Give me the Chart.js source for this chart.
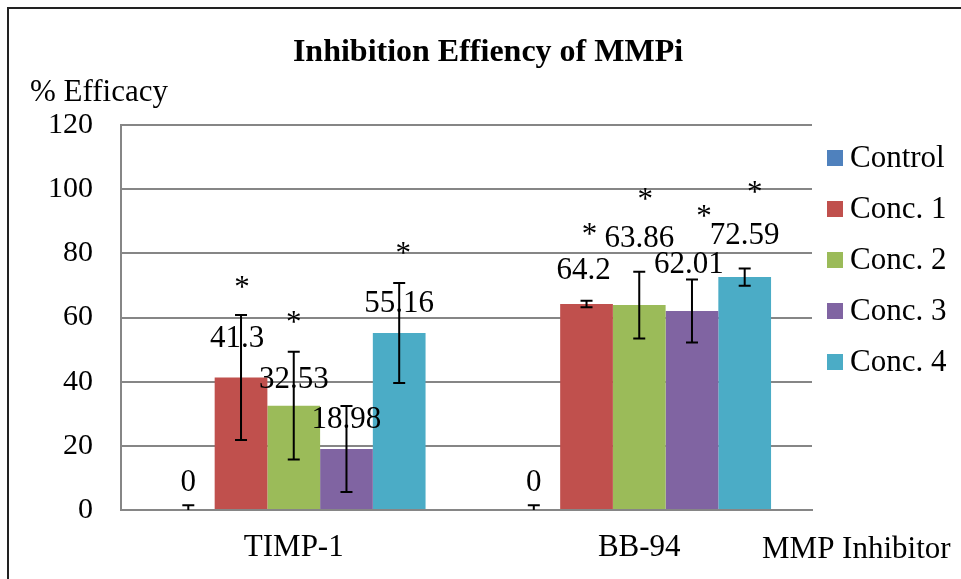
<!DOCTYPE html>
<html>
<head>
<meta charset="utf-8">
<script src="https://cdn.jsdelivr.net/npm/chart.js@4/dist/chart.umd.min.js"></script>
<style>
  html, body { margin: 0; padding: 0; background: #fff; }
</style>
</head>
<body>
<canvas id="chart" width="961" height="579"></canvas>
<script>
// Inhibition efficacy of MMP inhibitors

const categories = ['TIMP-1', 'BB-94'];
const seriesNames = ['Control', 'Conc. 1', 'Conc. 2', 'Conc. 3', 'Conc. 4'];

const controlValues = [0, 0];
const conc1Values = [41.3, 64.2];
const conc2Values = [32.53, 63.86];
const conc3Values = [18.98, 62.01];
const conc4Values = [55.16, 72.59];

// +/- error
const controlErr = [1.5, 1.5];
const conc1Err = [19.5, 1.0];
const conc2Err = [16.8, 10.4];
const conc3Err = [13.4, 9.8];
const conc4Err = [15.6, 2.7];

// significance stars
const controlSig = [false, false];
const conc1Sig = [true, true];
const conc2Sig = [true, true];
const conc3Sig = [false, true];
const conc4Sig = [true, true];

const yTicks = [0, 20, 40, 60, 80, 100, 120];

const colors = ['#4F81BD', '#C0504D', '#9BBB59', '#8064A2', '#4BACC6'];
const FONT = '"Liberation Serif", "Times New Roman", serif';

const values = [controlValues, conc1Values, conc2Values, conc3Values, conc4Values];
const errors = [controlErr, conc1Err, conc2Err, conc3Err, conc4Err];
const stars = [controlSig, conc1Sig, conc2Sig, conc3Sig, conc4Sig];

// label placement tweaks (px): [dx, lift above bar top]
const labelShift = [
    [[0, 29], [0, 29]],
    [[-4, 40], [-3, 35]],
    [[0, 28], [0, 68]],
    [[0, 31], [-3, 48]],
    [[0, 31], [0, 43]]
];
const starShift = [
    [null, null],
    [[1, 94], [3, 74]],
    [[0, 88], [6, 110]],
    [null, [12, 99]],
    [[4, 84], [10, 89]]
];

const annotate = {
    id: 'annotate',
    afterDatasetsDraw(chart) {
        const ctx = chart.ctx;
        const y = chart.scales.y;
        const area = chart.chartArea;

        // error bars
        ctx.save();
        ctx.beginPath();
        ctx.rect(area.left, area.top, area.right - area.left, area.bottom - area.top);
        ctx.clip();
        ctx.strokeStyle = '#000';
        ctx.lineWidth = 2;
        chart.data.datasets.forEach((ds, i) => {
            chart.getDatasetMeta(i).data.forEach((bar, j) => {
                const v = ds.data[j], e = errors[i][j];
                const top = y.getPixelForValue(v + e);
                const bot = y.getPixelForValue(v - e);
                ctx.beginPath();
                ctx.moveTo(bar.x, top); ctx.lineTo(bar.x, bot);
                ctx.moveTo(bar.x - 6, top); ctx.lineTo(bar.x + 6, top);
                ctx.moveTo(bar.x - 6, bot); ctx.lineTo(bar.x + 6, bot);
                ctx.stroke();
            });
        });
        ctx.restore();

        // value labels and stars
        ctx.save();
        ctx.fillStyle = '#000';
        ctx.textAlign = 'center';
        ctx.textBaseline = 'alphabetic';
        ctx.font = '31px ' + FONT;
        chart.data.datasets.forEach((ds, i) => {
            chart.getDatasetMeta(i).data.forEach((bar, j) => {
                const [dx, lift] = labelShift[i][j];
                ctx.fillText(String(ds.data[j]), bar.x + dx, bar.y - lift + 10);
                if (stars[i][j]) {
                    const [sx, sl] = starShift[i][j];
                    ctx.fillText('*', bar.x + sx, bar.y - sl + 14);
                }
            });
        });
        ctx.restore();
    },
    afterDraw(chart) {
        const ctx = chart.ctx;
        ctx.save();
        ctx.fillStyle = '#000';

        ctx.font = 'bold 32px ' + FONT;
        ctx.textAlign = 'center';
        ctx.textBaseline = 'alphabetic';
        ctx.fillText('Inhibition Effiency of MMPi', 488, 61);

        ctx.font = '31px ' + FONT;
        ctx.textAlign = 'left';
        ctx.fillText('% Efficacy', 30, 101);
        ctx.fillText('MMP Inhibitor', 762, 558);

        // legend
        ctx.textBaseline = 'middle';
        seriesNames.forEach((name, i) => {
            const cy = 158 + i * 51;
            ctx.fillStyle = colors[i];
            ctx.fillRect(827, cy - 8, 16, 16);
            ctx.fillStyle = '#000';
            ctx.fillText(name, 850, cy + 1);
        });

        // outer frame
        ctx.strokeStyle = '#222';
        ctx.lineWidth = 2;
        ctx.strokeRect(8, 8, 1000, 1000);
        ctx.restore();
    }
};

new Chart(document.getElementById('chart'), {
    type: 'bar',
    data: {
        labels: categories,
        datasets: seriesNames.map((name, i) => ({
            label: name,
            data: values[i],
            backgroundColor: colors[i],
            borderWidth: 0
        }))
    },
    options: {
        responsive: false,
        animation: false,
        devicePixelRatio: 1,
        categoryPercentage: 0.763,
        barPercentage: 1,
        layout: { padding: { top: 125, right: 149, left: 0, bottom: 0 } },
        plugins: {
            legend: { display: false },
            title: { display: false },
            tooltip: { enabled: false }
        },
        scales: {
            x: {
                grid: { display: false, drawTicks: false },
                border: { color: '#868686', width: 2 },
                ticks: { color: '#000', font: { family: FONT, size: 31 }, padding: 19 },
                afterFit(scale) { scale.height = 69; }
            },
            y: {
                min: 0,
                max: 120,
                afterBuildTicks(scale) { scale.ticks = yTicks.map(v => ({ value: v })); },
                grid: { color: '#868686', lineWidth: 2, drawTicks: false },
                border: { color: '#868686', width: 2 },
                ticks: { color: '#000', font: { family: FONT, size: 30 }, padding: 28 },
                afterFit(scale) { scale.width = 121; }
            }
        }
    },
    plugins: [annotate]
});
</script>
</body>
</html>
